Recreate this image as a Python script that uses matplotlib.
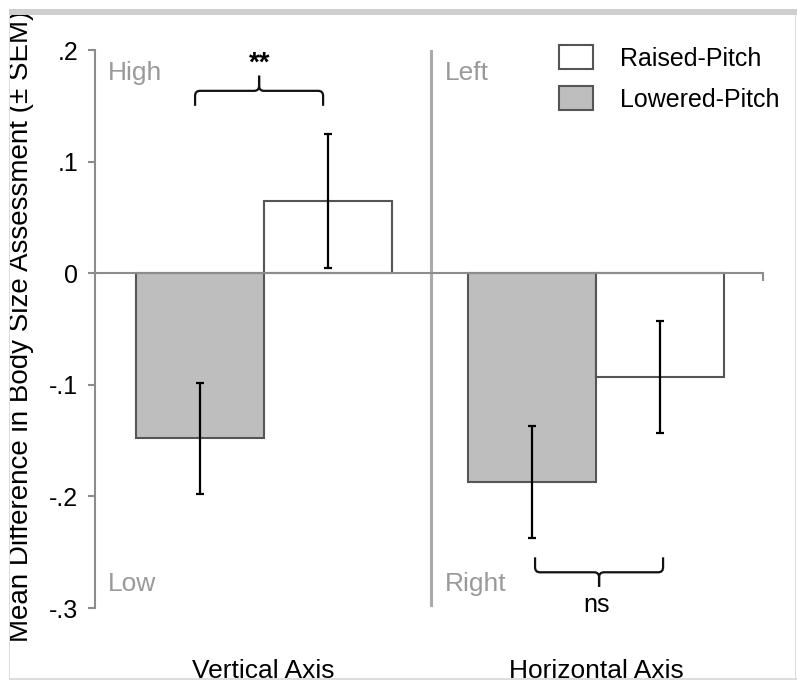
import matplotlib
matplotlib.use("Agg")
import matplotlib.pyplot as plt
from matplotlib.path import Path
from matplotlib.patches import PathPatch, Rectangle
from matplotlib.transforms import IdentityTransform

plt.rcParams['font.family'] = ['Liberation Sans', 'DejaVu Sans']

# data
groups = ["Vertical Axis", "Horizontal Axis"]
raised_mean = [0.065, -0.093]
raised_sem = [0.060, 0.050]
lowered_mean = [-0.148, -0.187]
lowered_sem = [0.050, 0.050]
series_labels = ["Raised-Pitch", "Lowered-Pitch"]
yticks = [0.2, 0.1, 0.0, -0.1, -0.2, -0.3]
ytick_labels = [".2", ".1", "0", "-.1", "-.2", "-.3"]
pole_labels = [("High", "Low"), ("Left", "Right")]
sig_labels = ["**", "ns"]

W, H = 797, 682
fig = plt.figure(figsize=(W / 100, H / 100), dpi=100)
ax = fig.add_axes([95 / W, 74 / H, 668 / W, 558 / H])

xs = list(range(len(groups)))
bw = 0.385
edge = "#555555"

lowered = ax.bar([x - bw / 2 for x in xs], lowered_mean, bw, color="#bebebe",
                 edgecolor=edge, linewidth=1.5, zorder=2)
raised = ax.bar([x + bw / 2 for x in xs], raised_mean, bw, color="white",
                edgecolor=edge, linewidth=1.5, zorder=2)
ax.errorbar([x - bw / 2 for x in xs], lowered_mean, yerr=lowered_sem, fmt="none",
            ecolor="black", elinewidth=1.6, capsize=3, capthick=1.6, zorder=3)
ax.errorbar([x + bw / 2 for x in xs], raised_mean, yerr=raised_sem, fmt="none",
            ecolor="black", elinewidth=1.6, capsize=3, capthick=1.6, zorder=3)

ax.set_xlim(-0.507, 1.502)
ax.set_ylim(-0.3, 0.2)

# axes styling
for s in ["top", "right"]:
    ax.spines[s].set_visible(False)
ax.spines["left"].set_color("#8c8c8c")
ax.spines["left"].set_linewidth(1.5)
ax.spines["bottom"].set_position(("data", 0))
ax.spines["bottom"].set_color("#8c8c8c")
ax.spines["bottom"].set_linewidth(1.5)
ax.set_yticks(yticks)
ax.set_yticklabels(ytick_labels)
ax.tick_params(axis="y", direction="out", length=5, width=1.5, color="#8c8c8c",
               labelsize=18, pad=7)
ax.set_xticks([1.502])
ax.set_xticklabels([""])
ax.tick_params(axis="x", direction="out", length=6, width=1.5, color="#8c8c8c")

# divider between the two panels
ax.plot([0.503, 0.503], [0.2, -0.2975], color="#aaaaaa", lw=2.2, zorder=1)

# High/Low, Left/Right labels
for x, (top, bottom) in zip([-0.468, 0.546], pole_labels):
    ax.text(x, 0.173, top, color="#9a9a9a", fontsize=19, va="baseline")
    ax.text(x, -0.285, bottom, color="#9a9a9a", fontsize=19, va="baseline")

# group labels
for x, g in zip(xs, groups):
    ax.text(x, -0.363, g, fontsize=19, ha="center", va="baseline", clip_on=False)


def brace(x0, x1, xm, y_line, y_end, y_tip, rx=0.015, ry=0.0045):
    de = ry if y_end > y_line else -ry
    dt = ry if y_tip > y_line else -ry
    for xa, sx in [(x0, 1), (x1, -1)]:
        verts = [(xa, y_end), (xa, y_line + de), (xa, y_line), (xa + sx * rx, y_line),
                 (xm - sx * rx, y_line), (xm, y_line), (xm, y_line + dt), (xm, y_tip)]
        codes = [Path.MOVETO, Path.LINETO, Path.CURVE3, Path.CURVE3,
                 Path.LINETO, Path.CURVE3, Path.CURVE3, Path.LINETO]
        ax.add_patch(PathPatch(Path(verts, codes), fill=False, edgecolor="#111111",
                               lw=1.6, zorder=3, clip_on=False))


brace(-0.206, 0.179, -0.0135, 0.1634, 0.150, 0.177)
ax.text(-0.0105, 0.1815, sig_labels[0], fontsize=20, fontweight="bold",
        ha="center", va="baseline")
brace(0.8165, 1.2015, 1.009, -0.268, -0.2546, -0.281)
ax.text(1.0015, -0.3035, sig_labels[1], fontsize=18, ha="center", va="baseline",
        clip_on=False)

leg = ax.legend([raised, lowered], series_labels, loc="upper left",
                bbox_to_anchor=(559 / W, (H - 45) / H), bbox_transform=fig.transFigure,
                frameon=False, fontsize=18, borderpad=0, borderaxespad=0,
                handlelength=1.36, handleheight=1.12, handletextpad=1.08,
                labelspacing=0.62)

fig.text(21 / W, (H - 326) / H, "Mean Difference in Body Size Assessment (\u00b1 SEM)",
         rotation=90, fontsize=20, ha="center", va="center")

# cropped frame around the picture
tr = IdentityTransform()
for xy, w, h in [((0, 0), 9, H), ((0, 0), W, 4), ((0, H - 15), W, 15), ((796, 0), 1, H)]:
    fig.add_artist(Rectangle(xy, w, h, transform=tr, facecolor="white",
                             edgecolor="none", zorder=10))
fig.add_artist(Rectangle((9, H - 15), W - 9, 6, transform=tr, facecolor="#cfcfcf",
                         edgecolor="none", zorder=11))
fig.add_artist(Rectangle((9, 2), 1, H - 17, transform=tr, facecolor="#dddddd",
                         edgecolor="none", zorder=11))
fig.add_artist(Rectangle((795, 2), 1, H - 17, transform=tr, facecolor="#dddddd",
                         edgecolor="none", zorder=11))
fig.add_artist(Rectangle((9, 2), W - 9, 2, transform=tr, facecolor="#dddddd",
                         edgecolor="none", zorder=11))

fig.savefig("out.png", dpi=100)
